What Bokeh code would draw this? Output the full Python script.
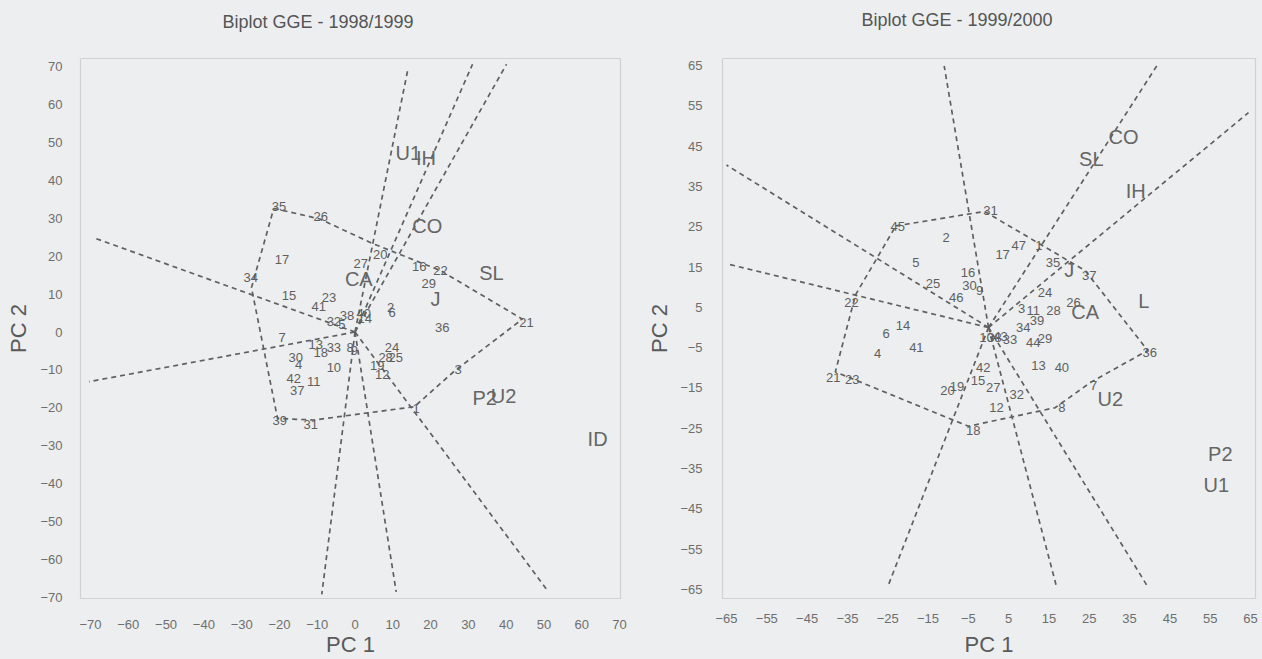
from bokeh.plotting import figure
from bokeh.layouts import row
from bokeh.models import ColumnDataSource, FixedTicker, Range1d, LinearAxis, Title
from bokeh.embed import file_html
from bokeh.resources import INLINE
from bokeh.core.properties import value

FONT = "Liberation Sans"
BG = "#eceef0"
TXT = "#5f5f5f"
LINE = "#606060"

# ---------------- Biplot GGE - 1998/1999 ----------------
g98_labels = ["1", "2", "3", "4", "5", "6", "7", "8", "9", "10", "11", "12", "13", "14",
              "15", "16", "17", "18", "19", "20", "21", "22", "23", "24", "25", "26", "27",
              "28", "29", "30", "31", "32", "33", "34", "35", "36", "37", "38", "39", "40",
              "41", "42"]
g98_x = [16.2, 9.4, 27.3, -14.9, -3.5, 9.8, -19.3, -1.3, -0.2, -5.6, -10.9, 7.2, -10.4, 2.6,
         -17.5, 17.0, -19.3, -9.1, 5.9, 6.7, 45.4, 22.6, -6.9, 9.8, 10.8, -9.1, 1.5,
         8.1, 19.5, -15.7, -11.7, -5.6, -5.6, -27.6, -20.1, 23.1, -15.3, -2.1, -19.9, 2.3,
         -9.6, -16.2]
g98_y = [-20.1, 6.4, -9.8, -8.5, 2.0, 5.1, -1.4, -4.2, -4.9, -9.4, -13.1, -11.2, -3.2, 3.6,
         9.5, 17.4, 19.2, -5.4, -8.9, 20.5, 2.5, 16.1, 9.2, -4.1, -6.6, 30.4, 18.1,
         -6.6, 12.7, -6.8, -24.3, 2.9, -4.1, 14.4, 33.1, 1.2, -15.3, 4.3, -23.3, 4.9,
         6.7, -12.3]
e98_labels = ["U1", "IH", "CO", "SL", "J", "CA", "P2", "U2", "ID"]
e98_x = [14.1, 18.8, 19.1, 36.1, 21.3, 1.0, 34.3, 39.3, 64.2]
e98_y = [47.3, 46.0, 28.0, 15.5, 8.6, 14.0, -17.3, -16.9, -28.3]
hull98_x = [-21.5, -9.3, 4.5, 22.6, 44.3, 26.3, 15.7, -10.9, -20.5, -27.4, -21.5]
hull98_y = [32.6, 29.8, 23.4, 16.2, 3.4, -10.3, -19.7, -23.2, -22.8, 11.7, 32.6]
ray98_x = [-69.3, -70.4, 14.0, 31.1, 40.1, -8.8, 10.9, 51.2]
ray98_y = [24.9, -13.1, 69.3, 70.6, 70.6, -69.2, -68.5, -68.5]
ticks98_x = [-70, -60, -50, -40, -30, -20, -10, 0, 10, 20, 30, 40, 50, 60, 70]
ticks98_y = [-70, -60, -50, -40, -30, -20, -10, 0, 10, 20, 30, 40, 50, 60, 70]

# ---------------- Biplot GGE - 1999/2000 ----------------
g99_labels = ["1", "2", "3", "4", "5", "6", "7", "8", "9", "10", "11", "12", "13", "14",
              "15", "16", "17", "18", "19", "20", "21", "22", "23", "24", "25", "26", "27",
              "28", "29", "30", "31", "32", "33", "34", "35", "36", "37", "38", "39", "40",
              "41", "42", "43", "44", "45", "46", "47"]
g99_x = [12.5, -10.5, 8.2, -27.5, -18.0, -25.4, 26.1, 18.2, -2.2, -0.5, 11.1, 2.0, 12.4, -21.2,
         -2.6, -5.1, 3.5, -3.8, -7.8, -10.2, -38.5, -34.0, -33.8, 14.0, -13.8, 21.1, 1.2,
         16.1, 14.0, -4.7, 0.5, 7.0, 5.3, 8.6, 16.0, 40.0, 25.0, 1.5, 12.0, 18.2,
         -17.9, -1.3, 3.0, 11.1, -22.5, -8.0, 7.5]
g99_y = [20.3, 22.4, 4.6, -6.5, 16.2, -1.6, -14.4, -19.8, 9.2, -2.6, 4.2, -19.8, -9.4, 0.5,
         -13.2, 13.7, 18.2, -25.6, -14.6, -15.6, -12.3, 6.2, -12.9, 8.8, 10.8, 6.3, -14.8,
         4.2, -2.8, 10.4, 29.0, -16.5, -3.0, 0.1, 16.2, -6.1, 12.9, -2.4, 1.7, -9.9,
         -4.9, -9.9, -2.2, -3.6, 25.0, 7.5, 20.3]
e99_labels = ["CO", "SL", "IH", "L", "CA", "J", "U2", "P2", "U1"]
e99_x = [33.5, 25.5, 36.5, 38.5, 24.0, 20.0, 30.2, 57.5, 56.5]
e99_y = [47.3, 41.8, 33.9, 6.7, 3.8, 14.3, -17.7, -31.3, -39.1]
hull99_x = [-23.0, -1.0, 24.0, 39.5, 25.5, 16.5, -5.0, -38.0, -33.0, -23.0]
hull99_y = [25.2, 28.8, 14.1, -5.7, -13.5, -19.9, -24.5, -11.0, 8.1, 25.2]
ray99_x = [-11.0, -65.0, -64.5, 42.0, 64.5, -25.0, 17.0, 39.5]
ray99_y = [64.9, 40.3, 15.7, 65.3, 53.3, -64.3, -64.8, -64.3]
ticks99 = [-65, -55, -45, -35, -25, -15, -5, 5, 15, 25, 35, 45, 55, 65]


def make_panel(title, title_offset, title_standoff, spacer, xr, yr, xticks, yticks,
               borders, label_standoffs, glab, gx, gy, elab, ex, ey,
               hx, hy, rx, ry, width):
    bl, br, bt, bb = borders
    p = figure(width=width, height=659, x_range=Range1d(*xr), y_range=Range1d(*yr),
               output_backend="svg", toolbar_location=None, title=None,
               min_border_left=bl, min_border_right=br, min_border_top=bt,
               min_border_bottom=bb, background_fill_color=BG, border_fill_color=BG,
               outline_line_color="#cfd1d3", outline_line_width=1.2)
    # empty band between plot area and title: a label-less axis whose only tick
    # is painted in the background colour
    gap = LinearAxis(ticker=FixedTicker(ticks=[xr[0]]), axis_line_color=None,
                     major_tick_line_color=BG, minor_tick_line_color=None,
                     major_tick_out=spacer, major_tick_in=0, minor_tick_out=0,
                     major_label_text_color=None, major_label_standoff=0)
    p.add_layout(gap, "above")
    t = Title(text=title, align="left", offset=title_offset, standoff=title_standoff,
              text_font=FONT, text_font_size="18px", text_font_style="normal",
              text_color="#555555")
    p.add_layout(t, "above")
    p.grid.visible = False
    xax = p.below[0]
    yax = p.left[0]
    xax.ticker = FixedTicker(ticks=xticks)
    yax.ticker = FixedTicker(ticks=yticks)
    for ax in (xax, yax):
        ax.axis_line_color = None
        ax.major_tick_line_color = None
        ax.minor_tick_line_color = None
        ax.major_label_text_font = FONT
        ax.major_label_text_font_size = "13px"
        ax.major_label_text_color = "#6e6e6e"
        ax.axis_label_text_font = FONT
        ax.axis_label_text_font_size = "22px"
        ax.axis_label_text_font_style = "normal"
        ax.axis_label_text_color = "#5a5a5a"
    xs, xas, ys, yas = label_standoffs
    xax.axis_label = "PC 1"
    yax.axis_label = "PC 2"
    xax.major_label_standoff = xs
    xax.axis_label_standoff = xas
    yax.major_label_standoff = ys
    yax.axis_label_standoff = yas

    # rays from origin, perpendicular to the polygon sides
    rays = ColumnDataSource(dict(x0=[0] * len(rx), y0=[0] * len(ry), x1=rx, y1=ry))
    p.segment("x0", "y0", "x1", "y1", source=rays, line_color=LINE, line_width=1.7,
              line_dash="5 4")
    # polygon
    p.line(hx, hy, line_color=LINE, line_width=1.7, line_dash="5 4")

    gsrc = ColumnDataSource(dict(x=gx, y=gy, t=glab))
    p.text("x", "y", text="t", source=gsrc, text_align="center", text_baseline="middle",
           text_font=value(FONT), text_font_size="13px", text_color=TXT)
    esrc = ColumnDataSource(dict(x=ex, y=ey, t=elab))
    p.text("x", "y", text="t", source=esrc, text_align="center", text_baseline="middle",
           text_font=value(FONT), text_font_size="20px", text_color="#666666")
    return p


p1 = make_panel("Biplot GGE - 1998/1999", 142, 17, 18, (-72.65, 70.26), (-70.26, 72.11),
                ticks98_x, ticks98_y, (80, 11, 58, 61), (15, 0, 12, 6),
                g98_labels, g98_x, g98_y, e98_labels, e98_x, e98_y,
                hull98_x, hull98_y, ray98_x, ray98_y, 631)
p2 = make_panel("Biplot GGE - 1999/2000", 139, 13, 22, (-66.0, 66.24), (-67.23, 66.74),
                ticks99, ticks99, (91, 7, 58, 61), (9, 6, 14, 5),
                g99_labels, g99_x, g99_y, e99_labels, e99_x, e99_y,
                hull99_x, hull99_y, ray99_x, ray99_y, 631)

layout = row(p1, p2, spacing=0)
html = file_html(layout, INLINE)
css = "<style>html, body { background-color: %s !important; }</style>" % BG
html = html.replace("</head>", css + "</head>", 1)
open("out.html", "w").write(html)
